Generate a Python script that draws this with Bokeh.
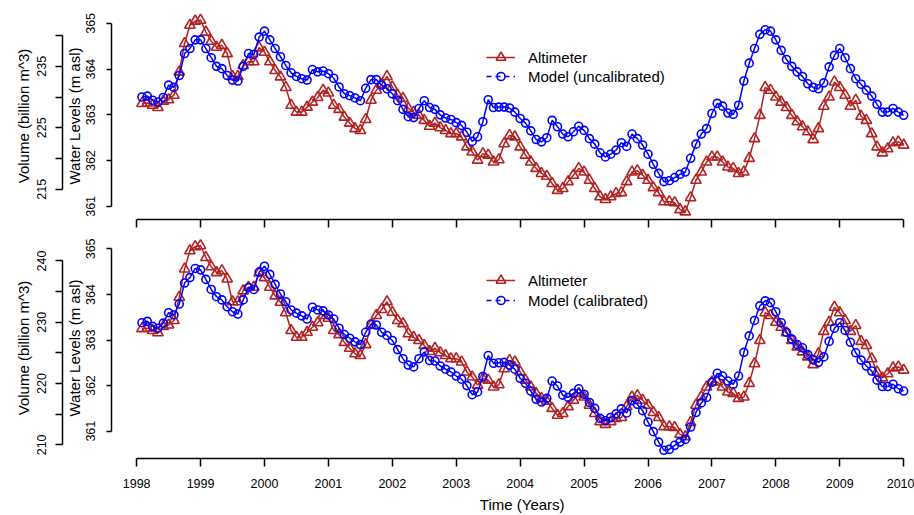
import numpy as np
from bokeh.plotting import figure
from bokeh.models import (Range1d, LinearAxis, FixedTicker, Legend, LegendItem,
                          Title, ColumnDataSource)
from bokeh.layouts import column
from bokeh.embed import file_html
from bokeh.resources import INLINE

# ---------------- data ----------------
START_YEAR = 1998
N_MONTHS = 144  # monthly values, Feb 1998 .. Jan 2010
YEAR_TICKS = list(range(1998, 2011))
WL_TICKS = [361, 362, 363, 364, 365]
VOL_TICKS_TOP = [215, 225, 235]
VOL_MINOR_TOP = [220, 230, 240]
VOL_TICKS_BOTTOM = [210, 220, 230, 240]
VOL_MINOR_BOTTOM = [215, 225, 235]
# stage-volume relation used for the secondary axis (water level, volume)
RATING_WL = [360.70, 364.735]
RATING_VOL = [210.0, 240.0]

ALTIMETER = [
    363.25, 363.26, 363.21, 363.16, 363.30, 363.33, 363.43, 363.94, 364.56, 364.96, 365.05, 365.07,
    364.81, 364.61, 364.48, 364.52, 364.34, 363.84, 363.84, 364.08, 364.16, 364.16, 364.47, 364.37,
    364.16, 363.97, 363.83, 363.60, 363.21, 363.06, 363.06, 363.17, 363.28, 363.38, 363.54, 363.48,
    363.21, 363.12, 362.95, 362.82, 362.70, 362.66, 362.90, 363.32, 363.54, 363.67, 363.84, 363.61,
    363.43, 363.36, 363.14, 363.06, 362.99, 362.88, 362.75, 362.82, 362.72, 362.66, 362.59, 362.59,
    362.52, 362.30, 362.19, 362.01, 362.15, 362.12, 361.97, 362.02, 362.37, 362.55, 362.52, 362.30,
    362.12, 361.97, 361.83, 361.72, 361.66, 361.50, 361.35, 361.39, 361.54, 361.68, 361.83, 361.75,
    361.57, 361.39, 361.21, 361.15, 361.21, 361.28, 361.30, 361.54, 361.75, 361.78, 361.68, 361.57,
    361.41, 361.30, 361.10, 361.10, 361.08, 360.93, 360.88, 361.19, 361.57, 361.75, 361.97, 362.08,
    362.08, 361.97, 361.86, 361.83, 361.72, 361.75, 362.05, 362.48, 362.99, 363.60, 363.54, 363.39,
    363.28, 363.16, 362.99, 362.85, 362.74, 362.63, 362.46, 362.70, 363.19, 363.39, 363.72, 363.60,
    363.43, 363.19, 363.32, 362.97, 362.88, 362.59, 362.30, 362.17, 362.26, 362.39, 362.41, 362.34,
]

MODEL_UNCALIBRATED = [
    363.39, 363.41, 363.32, 363.28, 363.38, 363.65, 363.60, 363.86, 364.34, 364.45, 364.64, 364.64,
    364.45, 364.25, 364.06, 364.01, 363.86, 363.76, 363.74, 364.06, 364.34, 364.32, 364.70, 364.83,
    364.64, 364.45, 364.27, 364.08, 363.92, 363.84, 363.79, 363.76, 363.99, 363.94, 363.96, 363.90,
    363.80, 363.61, 363.46, 363.42, 363.37, 363.31, 363.58, 363.77, 363.77, 363.65, 363.57, 363.46,
    363.31, 363.12, 362.96, 362.94, 363.14, 363.31, 363.16, 363.12, 363.00, 362.93, 362.90, 362.83,
    362.77, 362.62, 362.42, 362.52, 362.85, 363.33, 363.16, 363.17, 363.17, 363.15, 363.06, 362.92,
    362.82, 362.65, 362.46, 362.41, 362.50, 362.88, 362.74, 362.58, 362.52, 362.63, 362.75, 362.66,
    362.48, 362.36, 362.17, 362.08, 362.14, 362.23, 362.39, 362.31, 362.58, 362.48, 362.34, 362.14,
    361.92, 361.72, 361.54, 361.56, 361.63, 361.70, 361.75, 362.05, 362.36, 362.58, 362.70, 363.03,
    363.25, 363.19, 363.04, 363.01, 363.21, 363.74, 364.13, 364.45, 364.76, 364.86, 364.83, 364.64,
    364.41, 364.21, 364.06, 363.94, 363.84, 363.68, 363.60, 363.57, 363.70, 364.05, 364.30, 364.45,
    364.25, 364.01, 363.79, 363.67, 363.54, 363.41, 363.23, 363.06, 363.06, 363.14, 363.06, 362.99,
]

MODEL_CALIBRATED = [
    363.38, 363.41, 363.30, 363.26, 363.37, 363.60, 363.55, 363.79, 364.25, 364.37, 364.57, 364.54,
    364.33, 364.11, 363.95, 363.88, 363.73, 363.62, 363.57, 363.88, 364.15, 364.11, 364.49, 364.62,
    364.44, 364.22, 364.01, 363.84, 363.66, 363.59, 363.53, 363.46, 363.72, 363.66, 363.64, 363.55,
    363.46, 363.26, 363.12, 363.04, 362.96, 362.90, 363.17, 363.35, 363.33, 363.17, 363.10, 362.99,
    362.79, 362.59, 362.45, 362.41, 362.59, 362.74, 362.55, 362.54, 362.43, 362.36, 362.30, 362.21,
    362.14, 362.00, 361.80, 361.86, 362.20, 362.66, 362.49, 362.50, 362.51, 362.45, 362.36, 362.16,
    362.05, 361.88, 361.70, 361.64, 361.72, 362.10, 361.99, 361.79, 361.74, 361.83, 361.93, 361.81,
    361.63, 361.50, 361.28, 361.23, 361.30, 361.38, 361.49, 361.40, 361.67, 361.59, 361.45, 361.20,
    360.99, 360.76, 360.58, 360.60, 360.69, 360.76, 360.82, 361.09, 361.41, 361.62, 361.74, 362.07,
    362.27, 362.21, 362.10, 362.03, 362.21, 362.73, 363.09, 363.43, 363.75, 363.86, 363.82, 363.62,
    363.38, 363.17, 363.02, 362.90, 362.83, 362.68, 362.57, 362.51, 362.63, 362.97, 363.26, 363.38,
    363.21, 362.95, 362.72, 362.56, 362.43, 362.32, 362.12, 361.98, 361.98, 362.03, 361.93, 361.88,
]

TIME = START_YEAR + np.arange(1, N_MONTHS + 1) / 12.0

# ---------------- styling / layout ----------------
RED = "#B22222"
BLUE = "#0000FF"
FONT = "Liberation Sans"
TICK_FS = "12.5px"
LABEL_FS = "15px"

FIG_W = 914
LEFT = 111
FRAME_W = FIG_W - LEFT
PX_PER_YEAR = 63.92

t_first, t_last = TIME[0], TIME[-1]
t_span = t_last - t_first
X_START = t_first - 0.04 * t_span
X_FULL_END = t_last + 0.04 * t_span
X_END = X_START + FRAME_W / PX_PER_YEAR
# centre of the full (R style) plotting range, used to place the x title
TITLE_OFFSET = (0.5 * (X_START + X_FULL_END) - X_START) * PX_PER_YEAR - 43


def vol_of(wl):
    return RATING_VOL[0] + (wl - RATING_WL[0]) * (RATING_VOL[1] - RATING_VOL[0]) / (RATING_WL[1] - RATING_WL[0])


def make_panel(model, model_label, height, top_b, bot_b, vol_ticks, vol_minor,
               show_x_labels, leg_vy1, leg_vy2):
    lo = min(min(ALTIMETER), min(model))
    hi = max(max(ALTIMETER), max(model))
    pad = 0.04 * (hi - lo)
    y0, y1 = lo - pad, hi + pad

    p = figure(width=FIG_W, height=height,
               x_range=Range1d(X_START, X_END), y_range=Range1d(y0, y1),
               x_axis_type=None, y_axis_type=None,
               output_backend="svg", toolbar_location=None,
               min_border_left=LEFT, min_border_right=0,
               min_border_top=top_b, min_border_bottom=bot_b)
    p.outline_line_color = None
    p.background_fill_color = "white"
    p.border_fill_color = "white"
    p.extra_y_ranges = {"vol": Range1d(vol_of(y0), vol_of(y1))}

    src = ColumnDataSource(dict(t=TIME, alt=ALTIMETER, mod=model))
    r_alt_line = p.line("t", "alt", source=src, line_color=RED, line_width=1.5)
    r_alt_pts = p.scatter("t", "alt", source=src, marker="triangle", size=10.5,
                          fill_color=None, line_color=RED, line_width=1.6)
    p.line("t", "mod", source=src, line_color=BLUE, line_width=1.5)
    p.scatter("t", "mod", source=src, marker="circle", size=8,
              fill_color=None, line_color=BLUE, line_width=1.6)
    # legend key for the model: dashed line with circle (hidden renderers)
    px_line = p.line("t", "mod", source=src, line_color=BLUE, line_width=1.5,
                     line_dash="5 4", visible=False)
    px_pts = p.scatter("t", "mod", source=src, marker="circle", size=8, fill_color=None,
                       line_color=BLUE, line_width=1.6, visible=False)

    def legend(item, vy, gh):
        lg = Legend(items=[item], location=(375, vy), padding=0, margin=0, spacing=0,
                    border_line_color=None, background_fill_alpha=0,
                    glyph_width=29, glyph_height=gh, label_height=gh,
                    label_standoff=13, label_text_font=FONT,
                    label_text_font_size=LABEL_FS, label_text_color="black",
                    click_policy="none")
        p.add_layout(lg)

    legend(LegendItem(label="Altimeter", renderers=[r_alt_line, r_alt_pts]), leg_vy1, 24)
    legend(LegendItem(label=model_label, renderers=[px_line, px_pts]), leg_vy2, 20)

    # water level axis (next to the frame)
    wl_axis = LinearAxis(ticker=FixedTicker(ticks=WL_TICKS), bounds=(min(WL_TICKS), max(WL_TICKS)),
                         axis_label="Water Levels (m asl)")
    wl_axis.major_tick_out = 5
    wl_axis.major_tick_in = 0
    wl_axis.minor_tick_line_color = None
    wl_axis.major_label_standoff = 11
    wl_axis.axis_label_standoff = 1
    p.add_layout(wl_axis, "left")

    # blank spacer between the two left axes
    spacer = LinearAxis(ticker=FixedTicker(ticks=[]), axis_line_color=None,
                        major_tick_line_color=None, minor_tick_line_color=None,
                        major_tick_out=13, major_tick_in=0, minor_tick_out=0, minor_tick_in=0,
                        major_label_standoff=0, axis_label_standoff=0)
    p.add_layout(spacer, "left")

    vol_axis = LinearAxis(y_range_name="vol",
                          ticker=FixedTicker(ticks=vol_ticks, minor_ticks=vol_minor),
                          bounds=(min(vol_ticks + vol_minor), max(vol_ticks + vol_minor)),
                          axis_label="Volume (billion m^3)")
    vol_axis.major_tick_out = 7
    vol_axis.major_tick_in = 0
    vol_axis.minor_tick_out = 7
    vol_axis.minor_tick_in = 0
    vol_axis.minor_tick_line_color = "black"
    vol_axis.minor_tick_line_width = 1.5
    vol_axis.major_label_standoff = 9
    vol_axis.axis_label_standoff = 3
    p.add_layout(vol_axis, "left")

    for ax in (wl_axis, vol_axis):
        ax.major_label_orientation = "vertical"
        ax.major_label_text_font = FONT
        ax.major_label_text_font_size = TICK_FS
        ax.major_label_text_color = "black"
        ax.axis_label_text_font = FONT
        ax.axis_label_text_font_size = LABEL_FS
        ax.axis_label_text_font_style = "normal"
        ax.axis_label_text_color = "black"
        ax.axis_line_color = "black"
        ax.axis_line_width = 1.5
        ax.major_tick_line_color = "black"
        ax.major_tick_line_width = 1.5

    x_axis = LinearAxis(ticker=FixedTicker(ticks=YEAR_TICKS),
                        bounds=(min(YEAR_TICKS), max(YEAR_TICKS)))
    x_axis.major_tick_out = 8
    x_axis.major_tick_in = 0
    x_axis.minor_tick_line_color = None
    x_axis.axis_line_color = "black"
    x_axis.axis_line_width = 1.5
    x_axis.major_tick_line_color = "black"
    x_axis.major_tick_line_width = 1.5
    x_axis.major_label_text_font = FONT
    x_axis.major_label_text_color = "black"
    if show_x_labels:
        x_axis.major_label_text_font_size = TICK_FS
        x_axis.major_label_standoff = 12
    else:
        x_axis.major_label_overrides = {yr: "" for yr in YEAR_TICKS}
        x_axis.major_label_text_font_size = "0px"
        x_axis.major_label_standoff = 0
    p.add_layout(x_axis, "below")
    return p


top = make_panel(MODEL_UNCALIBRATED, "Model (uncalibrated)", 229, 12, 10,
                 VOL_TICKS_TOP, VOL_MINOR_TOP, False, 150, 133)
bottom = make_panel(MODEL_CALIBRATED, "Model (calibrated)", 286, 8, 55,
                    VOL_TICKS_BOTTOM, VOL_MINOR_BOTTOM, True, 166, 148)

bottom.add_layout(Title(text="Time (Years)", align="left", offset=TITLE_OFFSET,
                        standoff=6, vertical_align="bottom",
                        text_font=FONT, text_font_size=LABEL_FS,
                        text_font_style="normal", text_color="black"), "below")

layout = column(top, bottom, spacing=0)
open("out.html", "w").write(file_html(layout, INLINE))
